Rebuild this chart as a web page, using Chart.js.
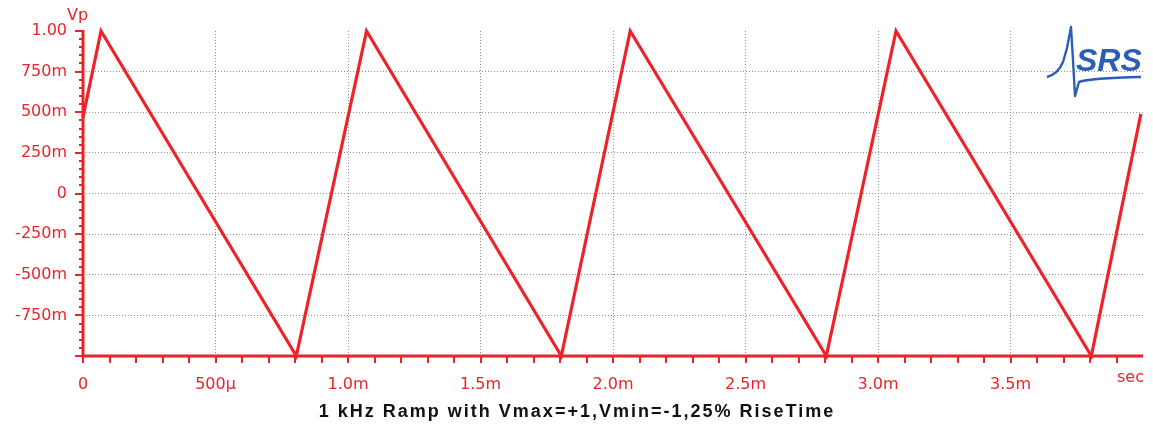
<!DOCTYPE html>
<html>
<head>
<meta charset="utf-8">
<script src="https://cdn.jsdelivr.net/npm/chart.js@4/dist/chart.umd.min.js"></script>
<style>
  html, body { margin: 0; padding: 0; background: #ffffff; }
  #wrap { width: 1153px; height: 430px; position: relative; }
</style>
</head>
<body>
<div id="wrap"><canvas id="c" width="1153" height="430"></canvas></div>
<script>
// ---- data ----
const timeMs = [0, 0.068, 0.805, 1.07, 1.805, 2.065, 2.805, 3.068, 3.805, 3.992];
const voltsVp = [0.47, 1.0, -1.0, 1.0, -1.0, 1.0, -1.0, 1.0, -1.0, 0.49];

const xTickValues = [0, 0.5, 1.0, 1.5, 2.0, 2.5, 3.0, 3.5, 4.0];
const xTickLabels = ['0', '500µ', '1.0m', '1.5m', '2.0m', '2.5m', '3.0m', '3.5m', ''];
const yTickValues = [-1, -0.75, -0.5, -0.25, 0, 0.25, 0.5, 0.75, 1.0];
const yTickLabels = ['', '-750m', '-500m', '-250m', '0', '250m', '500m', '750m', '1.00'];

const titleText = '1 kHz Ramp with Vmax=+1,Vmin=-1,25% RiseTime';
const xUnit = 'sec';
const yUnit = 'Vp';
const logoText = 'SRS';

const RED = '#ee2229';
const GRID = '#909090';

function labelFor(values, labels, v) {
  for (let i = 0; i < values.length; i++) {
    if (Math.abs(values[i] - v) < 1e-6) return labels[i];
  }
  return '';
}

const points = timeMs.map((t, i) => ({ x: t, y: voltsVp[i] }));

const decor = {
  id: 'decor',
  afterDatasetsDraw(chart) {
    const ctx = chart.ctx;
    const xs = chart.scales.x, ys = chart.scales.y;
    const left = xs.left, right = xs.right, top = ys.top, bottom = ys.bottom;
    ctx.save();
    ctx.strokeStyle = RED;
    ctx.lineCap = 'butt';
    // axis lines
    ctx.lineWidth = 3;
    ctx.beginPath();
    ctx.moveTo(left, top - 1);
    ctx.lineTo(left, bottom + 1.5);
    ctx.moveTo(left - 1.5, bottom);
    ctx.lineTo(right, bottom);
    ctx.stroke();
    // tick marks
    ctx.lineWidth = 2;
    ctx.beginPath();
    for (let k = 0; k <= 39; k++) {
      const px = Math.round(xs.getPixelForValue(k / 10));
      ctx.moveTo(px, bottom);
      ctx.lineTo(px, bottom + 7);
    }
    for (let k = -20; k <= 20; k++) {
      const py = Math.round(ys.getPixelForValue(k / 20));
      const len = (k % 5 === 0) ? 8 : 4;
      ctx.moveTo(left, py);
      ctx.lineTo(left - len, py);
    }
    ctx.stroke();
    // unit labels
    ctx.fillStyle = RED;
    ctx.font = '16px "DejaVu Sans"';
    ctx.textBaseline = 'alphabetic';
    ctx.textAlign = 'left';
    ctx.fillText(yUnit, 67, 20);
    ctx.fillText(xUnit, 1117, 382);
    // title
    ctx.fillStyle = '#111111';
    ctx.font = 'bold 18px "Liberation Sans"';
    ctx.textAlign = 'center';
    try { ctx.letterSpacing = '2px'; } catch (e) {}
    ctx.fillText(titleText, 577, 417);
    try { ctx.letterSpacing = '0px'; } catch (e) {}
    // logo
    ctx.fillStyle = '#2c5fb3';
    ctx.strokeStyle = '#2c5fb3';
    ctx.font = 'italic bold 32px "Liberation Sans"';
    ctx.textAlign = 'left';
    ctx.fillText(logoText, 1076, 71);
    ctx.lineWidth = 2.4;
    ctx.lineJoin = 'round';
    ctx.beginPath();
    ctx.moveTo(1047, 77);
    ctx.quadraticCurveTo(1058, 74, 1063, 62);
    ctx.lineTo(1067, 48);
    ctx.lineTo(1071, 27);
    ctx.lineTo(1073, 60);
    ctx.lineTo(1075, 96);
    ctx.lineTo(1079, 82);
    ctx.quadraticCurveTo(1090, 78, 1141, 77);
    ctx.stroke();
    ctx.restore();
  }
};

new Chart(document.getElementById('c'), {
  type: 'line',
  data: {
    datasets: [{
      data: points,
      borderColor: RED,
      borderWidth: 3.2,
      pointRadius: 0,
      tension: 0,
      fill: false,
      clip: 6
    }]
  },
  options: {
    responsive: false,
    animation: false,
    devicePixelRatio: 1,
    layout: { padding: { left: 0, right: 10, top: 31, bottom: 0 } },
    plugins: { legend: { display: false }, tooltip: { enabled: false }, title: { display: false } },
    scales: {
      x: {
        type: 'linear',
        min: 0, max: 4,
        afterBuildTicks(scale) { scale.ticks = xTickValues.map(v => ({ value: v })); },
        afterFit(scale) { scale.height = 74; scale.paddingLeft = 0; scale.paddingRight = 0; },
        ticks: {
          autoSkip: false, maxRotation: 0, padding: 19,
          color: RED, font: { family: 'DejaVu Sans', size: 16 },
          callback: (v) => labelFor(xTickValues, xTickLabels, v)
        },
        grid: {
          drawTicks: false,
          lineWidth: 1,
          color: (c) => (c.tick && c.tick.value > 0.01 && c.tick.value < 3.99) ? GRID : 'rgba(0,0,0,0)'
        },
        border: { display: false, dash: [1, 2] }
      },
      y: {
        type: 'linear',
        min: -1, max: 1,
        afterBuildTicks(scale) { scale.ticks = yTickValues.map(v => ({ value: v })); },
        afterFit(scale) { scale.width = 83; scale.paddingTop = 0; scale.paddingBottom = 0; },
        ticks: {
          autoSkip: false, padding: 16,
          color: RED, font: { family: 'DejaVu Sans', size: 16 },
          callback: (v) => labelFor(yTickValues, yTickLabels, v)
        },
        grid: {
          drawTicks: false,
          lineWidth: 1,
          color: (c) => (c.tick && Math.abs(c.tick.value) < 0.99) ? GRID : 'rgba(0,0,0,0)'
        },
        border: { display: false, dash: [1, 2] }
      }
    }
  },
  plugins: [decor]
});
</script>
</body>
</html>
